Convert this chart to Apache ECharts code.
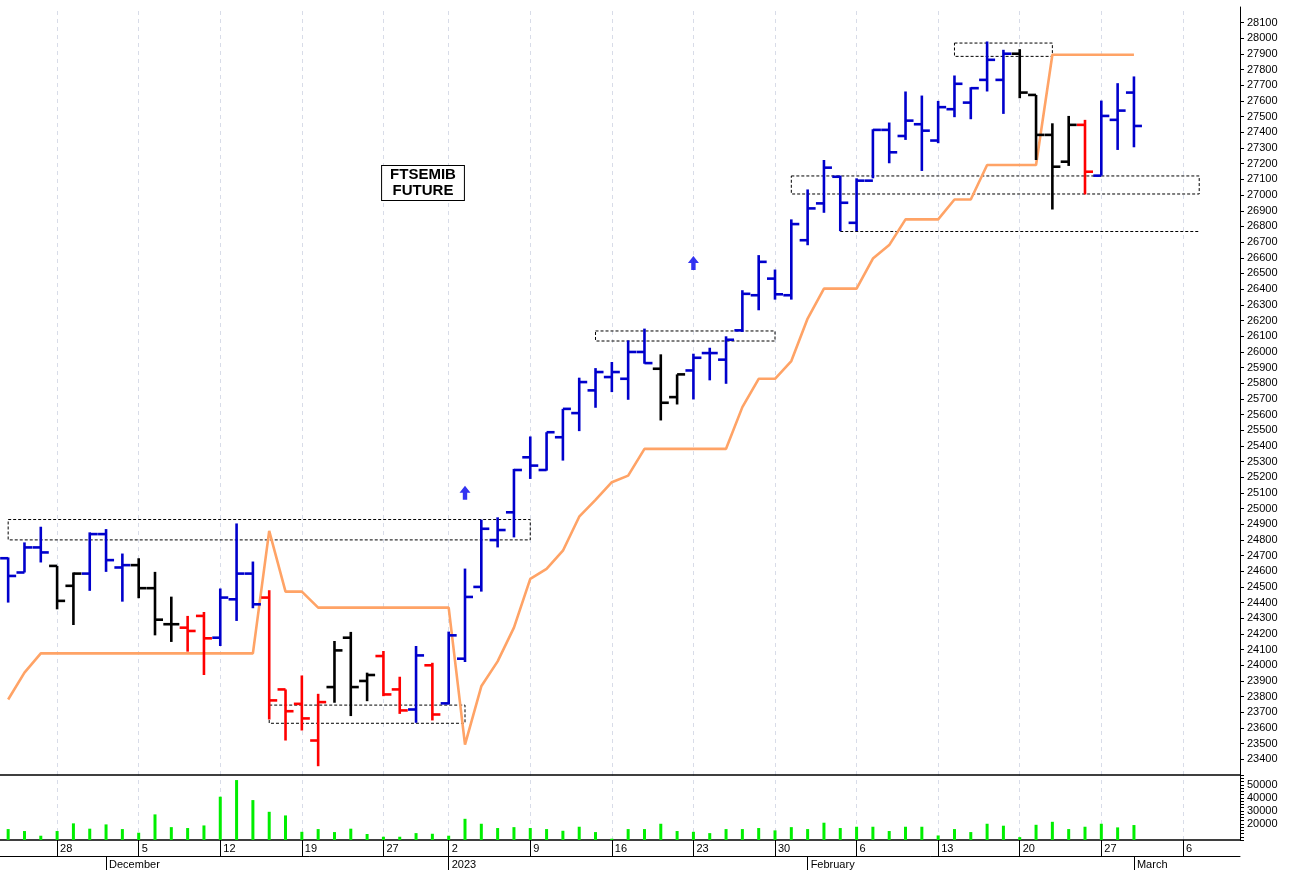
<!DOCTYPE html>
<html>
<head>
<meta charset="utf-8">
<script src="https://cdn.jsdelivr.net/npm/echarts@6/dist/echarts.min.js"></script>
<style>html,body{margin:0;padding:0;background:#fff}#main{width:1311px;height:870px}</style>
</head>
<body>
<div id="main"></div>
<script>
const dates = [
  "2022-11-23","2022-11-24","2022-11-25","2022-11-28","2022-11-29","2022-11-30","2022-12-01","2022-12-02",
  "2022-12-05","2022-12-06","2022-12-07","2022-12-08","2022-12-09","2022-12-12","2022-12-13","2022-12-14",
  "2022-12-15","2022-12-16","2022-12-19","2022-12-20","2022-12-21","2022-12-22","2022-12-23","2022-12-27",
  "2022-12-28","2022-12-29","2022-12-30","2023-01-02","2023-01-03","2023-01-04","2023-01-05","2023-01-06",
  "2023-01-09","2023-01-10","2023-01-11","2023-01-12","2023-01-13","2023-01-16","2023-01-17","2023-01-18",
  "2023-01-19","2023-01-20","2023-01-23","2023-01-24","2023-01-25","2023-01-26","2023-01-27","2023-01-30",
  "2023-01-31","2023-02-01","2023-02-02","2023-02-03","2023-02-06","2023-02-07","2023-02-08","2023-02-09",
  "2023-02-10","2023-02-13","2023-02-14","2023-02-15","2023-02-16","2023-02-17","2023-02-20","2023-02-21",
  "2023-02-22","2023-02-23","2023-02-24","2023-02-27","2023-02-28","2023-03-01","2023-03-02","2023-03-03",
  "2023-03-06","2023-03-07","2023-03-08","2023-03-09"
];
const opens  = [24683,24592,24752,24634,24507,24585,24837,24624,24639,24492,24262,24240,24315,24176,24421,24585,
  24432,23846,23754,23520,23861,24176,23900,24059,23846,23718,24000,23757,24042,24500,24799,24976,
  25327,25246,25455,25609,25754,25839,25828,25999,25892,25711,25881,25992,25950,26137,26361,26467,
  26361,26712,26947,27117,26823,27092,27416,27377,27452,27348,27548,27590,27735,27735,27902,27639,
  27384,27213,27448,27124,27480,27654];
const highs  = [24688,24784,24884,24634,24592,24848,24869,24713,24683,24596,24438,24315,24340,24490,24905,24662,
  24479,23846,23935,23818,24155,24213,23953,24091,23927,24123,24016,24215,24617,24929,24944,25253,
  25460,25487,25636,25835,25896,25935,26073,26148,25984,25856,25988,26026,26099,26393,26617,26525,
  26845,27036,27224,27124,27107,27420,27463,27661,27635,27601,27763,27688,27980,27927,27931,27639,
  27458,27505,27480,27603,27714,27757];
const lows   = [24400,24592,24656,24357,24257,24475,24596,24406,24428,24191,24149,24087,23938,24123,24283,24364,
  23654,23520,23584,23356,23761,23676,23771,23803,23690,23633,23648,23750,24021,24470,24752,24816,
  25189,25242,25306,25494,25643,25743,25694,25924,25562,25664,25696,25818,25796,26127,26265,26333,
  26333,26680,26887,26770,26770,27107,27203,27352,27154,27331,27497,27484,27661,27518,27618,27224,
  26908,27186,27004,27124,27288,27305];
const closes = [24570,24752,24720,24411,24585,24837,24671,24639,24492,24291,24262,24219,24172,24432,24585,24389,
  23776,23707,23661,23765,24095,23861,23938,23814,23712,24063,23686,24191,24436,24871,24863,25246,
  25274,25487,25636,25807,25871,25871,25999,25928,25675,25856,25962,25992,26077,26370,26574,26367,
  26815,26915,27175,26951,27092,27416,27273,27475,27411,27561,27710,27682,27863,27902,27654,27384,
  27181,27448,27149,27505,27539,27441];
// b = bullish, k = neutral, r = bearish
const trend = ["b","b","b","k","k","b","b","b","k","k","k","r","r","b","b","b",
  "r","r","r","r","k","k","k","r","r","b","r","b","b","b","b","b",
  "b","b","b","b","b","b","b","b","k","k","b","b","b","b","b","b",
  "b","b","b","b","b","b","b","b","b","b","b","b","b","b","k","k",
  "k","k","r","b","b","b"];
const stopLine = [23782,23953,24076,24076,24076,24076,24076,24076,24076,24076,24076,24076,24076,24076,24076,24076,
  24858,24470,24470,24368,24368,24368,24368,24368,24368,24368,24368,24368,23494,23866,24025,24240,
  24551,24615,24731,24948,25055,25168,25210,25381,25381,25381,25381,25381,25381,25647,25828,25828,
  25941,26212,26403,26403,26403,26595,26681,26845,26845,26845,26972,26972,27192,27192,27192,27192,
  27895,27895,27895,27895,27895,27895];
const volumes = [15900,14400,10800,14400,20300,16200,19500,15900,13100,27200,17400,16700,18700,40800,53600,38200,
  29200,26400,13800,15900,13600,16200,12100,10000,10000,12800,12300,10800,23800,20000,16700,17400,
  16700,15900,14600,17700,13600,8500,15900,15900,20000,14400,13800,12800,15900,15900,16700,14900,
  17400,15900,20800,16700,17700,17700,14400,17700,17700,11000,15900,13600,20000,18500,9700,19200,
  21500,15900,17700,20000,17200,19000];
const weekLabels = {3:"28",8:"5",13:"12",18:"19",23:"27",27:"2",32:"9",37:"16",42:"23",47:"30",52:"6",57:"13",62:"20",67:"27",72:"6"};
const monthLabels = {6:"December",27:"2023",49:"February",69:"March"};
const arrowIdx = [28, 42];
const arrowVal = [25101, 26566];
// [startIdx, endIdx, top, bottom]
const boxes = [[0,32,24930,24800],[16,28,23746,23630],[36,47,26133,26069],[58,64,27970,27885],[48,73,27122,27007]];
const supportLine = [51, 73, 26770];

const colorMap = {b: "#0000cc", k: "#000000", r: "#ff0000"};
const ohlc = opens.map((o, i) => [i, o, highs[i], lows[i], closes[i]]);

function renderBar(params, api) {
  const i = api.value(0);
  const pO = api.coord([i, api.value(1)]);
  const pH = api.coord([i, api.value(2)]);
  const pL = api.coord([i, api.value(3)]);
  const pC = api.coord([i, api.value(4)]);
  const w = 8;
  const style = {stroke: colorMap[trend[params.dataIndex]], lineWidth: 2.6};
  return {type: "group", children: [
    {type: "line", shape: {x1: pH[0], y1: pH[1], x2: pL[0], y2: pL[1]}, style},
    {type: "line", shape: {x1: pO[0] - w, y1: pO[1], x2: pO[0], y2: pO[1]}, style},
    {type: "line", shape: {x1: pC[0], y1: pC[1], x2: pC[0] + w, y2: pC[1]}, style}
  ]};
}

const weekInt = (idx) => weekLabels[idx] !== undefined;
const monthInt = (idx) => monthLabels[idx] !== undefined;
const txt = {color: "#000", fontSize: 11, fontFamily: "Arial, Liberation Sans"};
const weekGrid = {silent: true, symbol: "none", label: {show: false}, animation: false, z: -1,
  lineStyle: {color: "#d8dce8", width: 1, type: [4, 4]},
  data: Object.keys(weekLabels).map(k => ({xAxis: dates[k]}))};

const chart = echarts.init(document.getElementById("main"));
chart.setOption({
  animation: false,
  graphic: [{type: "text", x: 423, y: 166, z: 100,
    style: {text: "FTSEMIB\nFUTURE", align: "center", verticalAlign: "top", font: "bold 15px Arial, Liberation Sans", fill: "#000",
      backgroundColor: "#fff", borderColor: "#000", borderWidth: 1, padding: [1, 8], lineHeight: 16}}],
  grid: [
    {left: 0, width: 1240, top: 7, height: 768},
    {left: 0, width: 1240, top: 775, height: 65}
  ],
  xAxis: [
    {type: "category", gridIndex: 0, data: dates, boundaryGap: true,
      axisLine: {show: true, lineStyle: {color: "#000", width: 1.5}}, axisTick: {show: false}, axisLabel: {show: false}, splitLine: {show: false}},
    {type: "category", gridIndex: 1, data: dates, boundaryGap: true,
      axisLine: {show: true, lineStyle: {color: "#000", width: 1.5}},
      axisTick: {show: true, alignWithLabel: true, interval: weekInt, length: 16, lineStyle: {color: "#000"}},
      axisLabel: Object.assign({interval: weekInt, formatter: (v, i) => weekLabels[i] || "", align: "left", margin: 3, padding: [0, 0, 0, 3]}, txt),
      splitLine: {show: false}},
    {type: "category", gridIndex: 1, data: dates, boundaryGap: true, position: "bottom", offset: 16,
      axisLine: {show: true, lineStyle: {color: "#000", width: 1}},
      axisTick: {show: true, alignWithLabel: true, interval: monthInt, length: 14, lineStyle: {color: "#000"}},
      axisLabel: Object.assign({interval: monthInt, formatter: (v, i) => monthLabels[i] || "", align: "left", margin: 3, padding: [0, 0, 0, 3]}, txt)}
  ],
  yAxis: [
    {type: "value", gridIndex: 0, position: "right", min: 23300, max: 28200, interval: 100,
      axisLine: {show: true, lineStyle: {color: "#000"}}, axisTick: {show: true, length: 4, lineStyle: {color: "#000"}},
      axisLabel: Object.assign({margin: 7, showMinLabel: false, showMaxLabel: false, formatter: (v) => String(v)}, txt), splitLine: {show: false}},
    {type: "value", gridIndex: 1, position: "right", min: 7500, max: 57500, interval: 2500,
      axisLine: {show: true, lineStyle: {color: "#000"}}, axisTick: {show: true, length: 4, lineStyle: {color: "#000"}},
      axisLabel: Object.assign({margin: 7, formatter: (v) => (v % 10000 === 0 && v >= 20000 && v <= 50000) ? String(v) : ""}, txt),
      splitLine: {show: false}}
  ],
  series: [
    {type: "line", xAxisIndex: 0, yAxisIndex: 0, data: [], z: 0, markLine: weekGrid},
    {type: "line", xAxisIndex: 1, yAxisIndex: 1, data: [], z: 0, markLine: weekGrid},
    {type: "line", xAxisIndex: 0, yAxisIndex: 0, data: stopLine, symbol: "none", z: 5,
      lineStyle: {color: "#ffa366", width: 2.6},
      markArea: {silent: true, itemStyle: {color: "rgba(0,0,0,0)", borderColor: "#000", borderWidth: 1, borderType: [3, 2]},
        data: boxes.map(b => [{xAxis: dates[b[0]], yAxis: b[2]}, {xAxis: dates[b[1]], yAxis: b[3]}])},
      markLine: {silent: true, symbol: "none", label: {show: false}, lineStyle: {color: "#000", width: 1, type: [3, 2]},
        data: [[{xAxis: dates[supportLine[0]], yAxis: supportLine[2]}, {xAxis: dates[supportLine[1]], yAxis: supportLine[2]}]]}},
    {type: "custom", xAxisIndex: 0, yAxisIndex: 0, renderItem: renderBar, data: ohlc, z: 20,
      encode: {x: 0, y: [1, 2, 3, 4]}},
    {type: "scatter", xAxisIndex: 0, yAxisIndex: 0, z: 21,
      data: arrowIdx.map((i, k) => [i, arrowVal[k]]),
      symbol: "path://M5,0 L10,6 L7,6 L7,12 L3,12 L3,6 L0,6 Z", symbolSize: [11, 14],
      itemStyle: {color: "#0000ee"}},
    {type: "bar", xAxisIndex: 1, yAxisIndex: 1, data: volumes, barWidth: 3, z: 20,
      itemStyle: {color: "#00ee00"}}
  ]
});
</script>
</body>
</html>
